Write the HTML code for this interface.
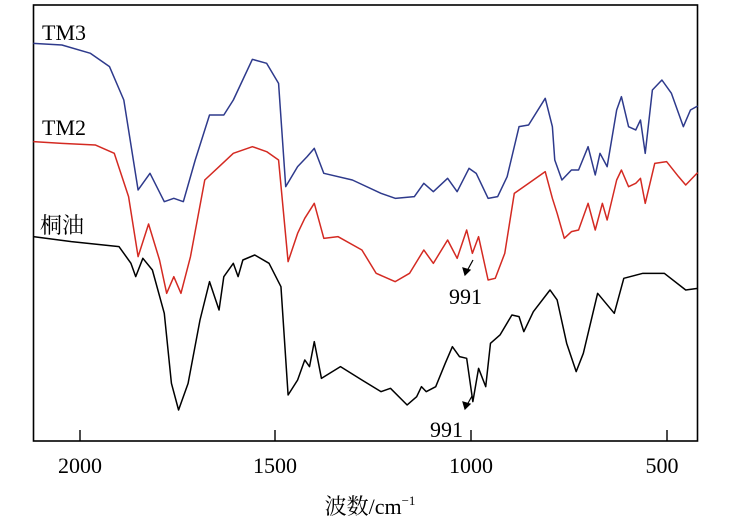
<!DOCTYPE html>
<html><head><meta charset="utf-8"><style>
body{margin:0;background:#fff;}
svg{display:block;}
text{font-family:"Liberation Serif","Noto Serif CJK SC",serif;fill:#000;}
</style></head><body>
<svg width="743" height="527" viewBox="0 0 743 527">
<rect x="33.5" y="5" width="664" height="436" fill="none" stroke="#000" stroke-width="1.6"/>
<g stroke="#000" stroke-width="1.4">
<line x1="80" y1="441" x2="80" y2="430"/><line x1="275" y1="441" x2="275" y2="430"/>
<line x1="471" y1="441" x2="471" y2="430"/><line x1="667" y1="441" x2="667" y2="430"/>
</g>
<g transform="scale(0.47619,0.33333)" fill="none" stroke-width="1.5" stroke-linejoin="round">
<polyline vector-effect="non-scaling-stroke" stroke="#2e3a8c" points="70,130 130,135 190,160 230,200 260,300 290,570 315,520 345,605 365,595 385,605 410,480 440,345 470,345 490,300 530,178 560,190 585,250 600,560 625,500 645,470 660,445 680,520 740,540 800,580 830,595 870,590 890,550 910,575 940,535 960,575 985,505 1000,520 1025,595 1045,590 1065,530 1090,380 1110,375 1145,295 1160,380 1165,480 1180,540 1200,510 1215,510 1235,440 1250,525 1260,460 1275,500 1295,330 1305,290 1320,380 1335,390 1345,360 1355,460 1370,270 1390,240 1410,280 1435,380 1450,330 1465,318"/>
<polyline vector-effect="non-scaling-stroke" stroke="#d42a22" points="70,425 130,430 200,435 240,460 270,590 290,770 312,672 335,780 350,880 365,830 380,880 400,770 430,540 460,500 490,460 530,440 560,455 585,480 605,785 625,700 640,655 660,610 680,715 710,710 760,750 790,820 830,845 860,820 890,750 910,790 940,720 960,775 980,690 992,760 1005,710 1025,840 1040,835 1060,760 1080,580 1110,550 1145,515 1160,595 1170,640 1185,715 1200,695 1215,690 1235,610 1250,690 1265,610 1275,660 1295,540 1305,510 1320,560 1335,550 1345,535 1355,610 1375,490 1400,485 1425,530 1440,555 1465,518"/>
<polyline vector-effect="non-scaling-stroke" stroke="#000" points="70,710 150,725 250,740 275,790 285,830 300,775 320,810 345,940 360,1150 375,1230 395,1150 420,960 440,845 460,930 470,830 490,790 500,830 510,780 535,765 565,790 590,860 605,1185 625,1140 640,1080 650,1100 660,1025 675,1135 715,1100 760,1140 800,1175 820,1165 855,1215 875,1190 885,1160 895,1175 915,1160 935,1090 950,1040 965,1070 980,1075 993,1205 1005,1105 1020,1160 1030,1030 1050,1005 1075,945 1090,950 1100,995 1120,935 1155,870 1170,900 1190,1030 1210,1115 1225,1060 1255,880 1290,940 1310,835 1350,820 1395,820 1440,870 1465,865"/>
</g>
<g stroke="#000" stroke-width="1.2" fill="#000">
<line x1="473" y1="260" x2="467" y2="271"/><polygon points="465,275 463,268 470,270"/>
<line x1="472" y1="396" x2="467" y2="405"/><polygon points="465,409 463,402 470,404"/>
</g>
<text x="42" y="40" font-size="22">TM3</text>
<text x="42" y="135" font-size="22">TM2</text>
<text x="40" y="233" font-size="22">桐油</text>
<text x="449" y="304" font-size="22">991</text>
<text x="430" y="437" font-size="22">991</text>
<g font-size="22" text-anchor="middle">
<text x="80" y="473">2000</text><text x="275" y="473">1500</text>
<text x="471" y="473">1000</text><text x="662" y="473">500</text>
</g>
<text x="370" y="514" font-size="22" text-anchor="middle">波数/cm<tspan font-size="13" dy="-9">−1</tspan></text>
</svg>
</body></html>
